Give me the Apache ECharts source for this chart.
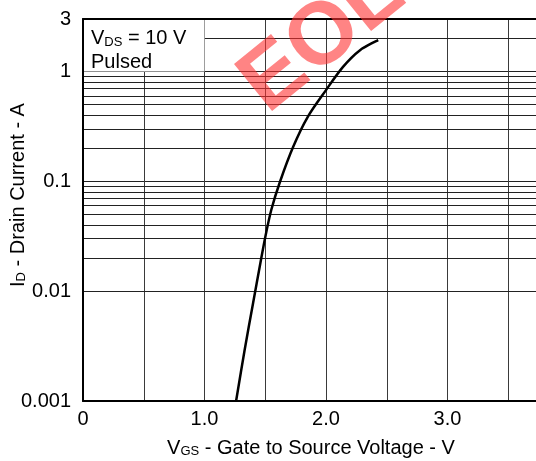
<!DOCTYPE html>
<html><head><meta charset="utf-8">
<script src="https://cdn.jsdelivr.net/npm/echarts@6/dist/echarts.min.js"></script>
<style>html,body{margin:0;padding:0;background:#fff}#c{width:536px;height:461px}</style>
</head><body><div id="c"></div>
<script>
// Transfer characteristic: V_GS (V) vs I_D (A), V_DS = 10 V, pulsed
const vgs = [1.26, 1.33, 1.40, 1.46, 1.50, 1.55, 1.62, 1.73, 1.85, 2.00, 2.14, 2.28, 2.43];
const drainCurrent = [0.001, 0.0029, 0.0078, 0.018, 0.031, 0.055, 0.098, 0.206, 0.386, 0.676, 1.10, 1.56, 1.93];
const xTickValues = [0, 1, 2, 3, 4];
const xTickLabels = ['0', '1.0', '2.0', '3.0', '4.0'];
const yTickValues = [0.001, 0.01, 0.1, 1, 3];
const yTickLabels = ['0.001', '0.01', '0.1', '1', '3'];
const decades = [0.001, 0.01, 0.1, 1];
const minorMultipliers = [2, 3, 4, 5, 6, 7, 8, 9];
const boxCorners = [[0, 1], [1, 3]];

const X_MIN = 0, X_MAX = 4, Y_MIN = 0.001, Y_MAX = 3;
const FONT = 'Liberation Sans, Arial, sans-serif';

const minorLines = [];
decades.forEach(d => minorMultipliers.forEach(m => {
  const v = +(d * m).toPrecision(3);
  if (v < Y_MAX) minorLines.push({ yAxis: v });
}));

const rich = {
  n: { fontSize: 20, fontFamily: FONT, color: '#000', verticalAlign: 'bottom' },
  s: { fontSize: 13, fontFamily: FONT, color: '#000', verticalAlign: 'bottom' }
};

const chart = echarts.init(document.getElementById('c'), null, { renderer: 'canvas' });
chart.setOption({
  animation: false,
  backgroundColor: '#fff',
  title: {
    left: 91, top: 25, padding: 0,
    text: '{n|V}{s|DS}{n| = 10 V}\n{n|Pulsed}',
    textStyle: { rich: rich, lineHeight: 23.5, fontSize: 20, fontFamily: FONT, fontWeight: 'normal' },
    z: 12
  },
  grid: { left: 83, top: 19, width: 486, height: 382, containLabel: false, outerBoundsMode: 'none' },
  xAxis: [{
    type: 'value', min: X_MIN, max: X_MAX, interval: 0.5, position: 'bottom',
    axisLine: { show: true, onZero: false, lineStyle: { color: '#000', width: 2 } },
    axisTick: { show: false },
    axisLabel: {
      fontSize: 20, fontFamily: FONT, color: '#000', margin: 8,
      formatter: v => { const i = xTickValues.indexOf(v); return i >= 0 ? xTickLabels[i] : ''; }
    },
    splitLine: { show: true, lineStyle: { color: '#3a3a3a', width: 1 } },
    name: '{n|V}{s|GS}{n| - Gate to Source Voltage - V}',
    nameLocation: 'middle', nameGap: 37, nameMoveOverlap: false,
    nameTextStyle: { rich: rich, padding: [0, 30, 0, 0] },
    z: 0
  }, {
    type: 'value', min: X_MIN, max: X_MAX, interval: 0.5, position: 'top',
    axisLine: { show: true, onZero: false, lineStyle: { color: '#000', width: 2 } },
    axisTick: { show: false }, axisLabel: { show: false }, splitLine: { show: false },
    z: 10
  }],
  yAxis: [{
    type: 'log', logBase: 10, min: Y_MIN, max: Y_MAX, position: 'left',
    axisLine: { show: false }, axisTick: { show: false }, axisLabel: { show: false },
    splitLine: { show: true, lineStyle: { color: '#222', width: 1 } },
    z: 0
  }, {
    type: 'log', logBase: 10, min: Y_MIN, max: Y_MAX, position: 'left',
    axisLine: { show: true, onZero: false, lineStyle: { color: '#000', width: 2 } },
    axisTick: { show: false },
    axisLabel: {
      fontSize: 20, fontFamily: FONT, color: '#000', margin: 12, showMaxLabel: true, showMinLabel: true,
      formatter: v => {
        const i = yTickValues.findIndex(t => Math.abs(Math.log10(t) - Math.log10(v)) < 1e-6);
        return i >= 0 ? yTickLabels[i] : '';
      }
    },
    splitLine: { show: false },
    name: '{n|I}{s|D}{n| - Drain Current - A}',
    nameLocation: 'middle', nameGap: 55, nameMoveOverlap: false,
    nameTextStyle: { rich: rich, padding: [0, 0, 0, 30] },
    z: 10
  }],
  series: [{
    type: 'line', data: [], xAxisIndex: 0, yAxisIndex: 0, z: 2, silent: true,
    markLine: {
      silent: true, symbol: ['none', 'none'], animation: false, z: 2,
      label: { show: false },
      lineStyle: { color: '#222', width: 1, type: 'solid' },
      emphasis: { disabled: true },
      data: minorLines
    }
  }, {
    type: 'line', data: [], xAxisIndex: 0, yAxisIndex: 0, z: 3, silent: true,
    markArea: {
      silent: true, z: 3,
      itemStyle: { color: '#fff', opacity: 1 },
      label: { show: false },
      emphasis: { disabled: true },
      data: [[{ coord: boxCorners[0] }, { coord: boxCorners[1] }]]
    }
  }, {
    type: 'line', xAxisIndex: 0, yAxisIndex: 0, z: 4,
    data: vgs.map((v, i) => [v, drainCurrent[i]]),
    smooth: 0.3, showSymbol: false, symbol: 'none',
    lineStyle: { color: '#000', width: 2.5 }
  }],
  graphic: [{
    type: 'text', x: 280, y: 130, rotation: 39 * Math.PI / 180, z: 100, silent: true,
    style: {
      text: 'EOL', fontSize: 88, fontWeight: 'bold', fontFamily: FONT,
      fill: 'rgba(255,50,50,0.6)', align: 'left', verticalAlign: 'bottom'
    }
  }]
});
</script>
</body></html>
